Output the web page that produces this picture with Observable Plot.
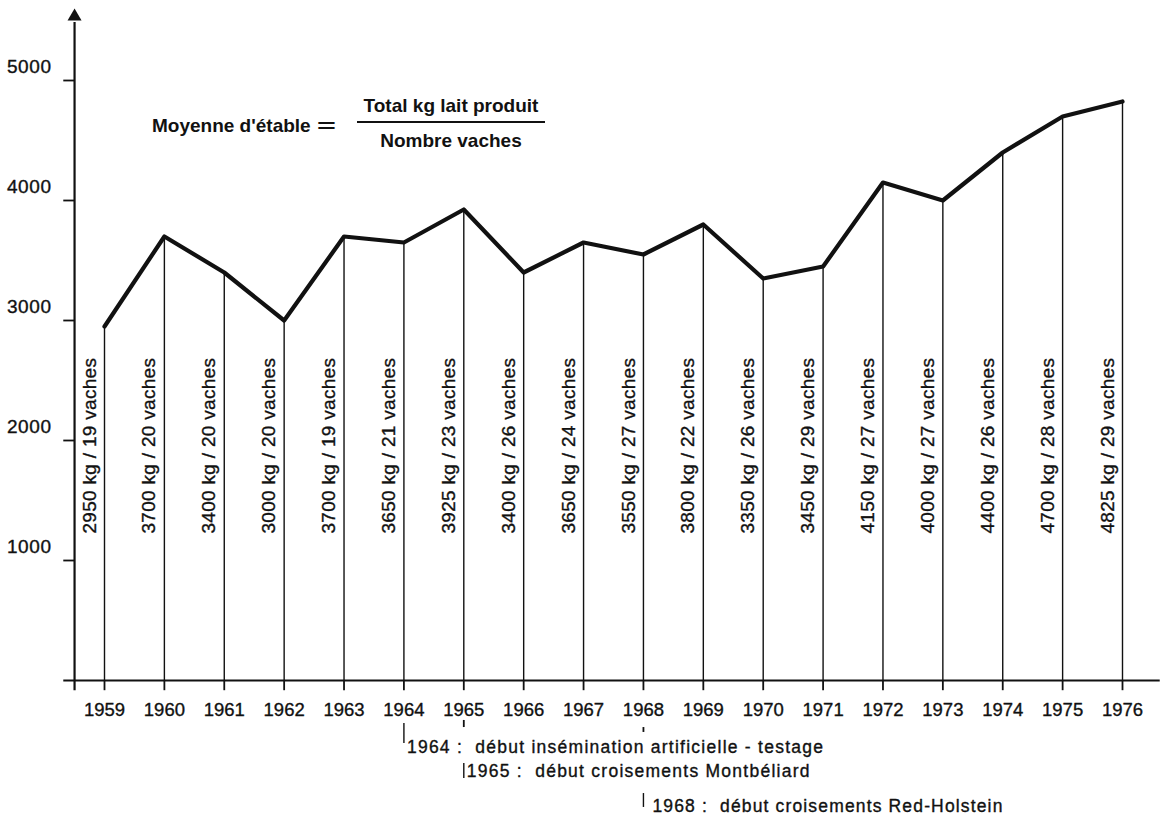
<!DOCTYPE html>
<html>
<head>
<meta charset="utf-8">
<script src="https://cdn.jsdelivr.net/npm/d3@7"></script>
<script src="https://cdn.jsdelivr.net/npm/@observablehq/plot@0.6"></script>
<style>
  body { margin: 0; background: #fff; }
  #wrap { position: relative; width: 1164px; height: 822px; font-family: "Liberation Sans", Arial, sans-serif; color: #111; }
  #chart { position: absolute; left: 0; top: 0; }
  .formula { position: absolute; font-weight: bold; font-size: 19px; line-height: 19px; white-space: nowrap; }
  .eq { display: inline-block; transform: scaleX(1.7); transform-origin: left center; margin-left: 6px; }
</style>
</head>
<body>
<div id="wrap">
  <div id="chart"></div>
  <div class="formula" style="left:152px; top:116px;">Moyenne d'étable<span class="eq">=</span></div>
  <div class="formula" style="left:357px; top:96px; width:188px; text-align:center;">Total kg lait produit</div>
  <div style="position:absolute; left:357px; top:121px; width:188px; height:0; border-top:2px solid #111;"></div>
  <div class="formula" style="left:357px; top:131px; width:188px; text-align:center;">Nombre vaches</div>
</div>
<script>
const years  = [1959,1960,1961,1962,1963,1964,1965,1966,1967,1968,1969,1970,1971,1972,1973,1974,1975,1976];
const milkKg = [2950,3700,3400,3000,3700,3650,3925,3400,3650,3550,3800,3350,3450,4150,4000,4400,4700,4825];
const cows   = [19,20,20,20,19,21,23,26,24,27,22,26,29,27,27,26,28,29];
const yTicks = [1000,2000,3000,4000,5000];
const noteYears = [1964,1965,1968];
const noteTexts = [
  "1964 :\u00a0\u00a0début insémination artificielle - testage",
  "1965 :\u00a0\u00a0début croisements Montbéliard",
  "1968 :\u00a0\u00a0début croisements Red-Holstein"
];

const data = years.map((y, i) => ({year: y, kg: milkKg[i], cows: cows[i]}));
const notes = noteYears.map((y, i) => ({year: y, text: noteTexts[i], row: i}));

const font = "'Liberation Sans', Arial, sans-serif";
const ink = "#111";
const textInk = {fill: ink, stroke: ink, strokeWidth: 0.35};

// axis extents (in data units)
const yAxisX = 1958.5;
const axisLeft = 1958.32, axisRight = 1976.63;
const axisBottom = -85, arrowY = 5533;

// note rows: leader bar extents and text baseline (in y data units), text offsets (px)
const noteBar  = [[-358, -525], [-692, -817], [-942, -1058]];
const noteBase = [-600, -808, -1092];
const noteDx   = [3, 3, 9];
const leaderMarks = [{year: 1965, y1: -333, y2: -392}, {year: 1968, y1: -392, y2: -433}];

const noteMarks = notes.map((n, i) =>
  Plot.text([n], {x: "year", y: noteBase[i], text: "text", textAnchor: "start", lineAnchor: "bottom", dx: noteDx[i], fontSize: 17.5, ...textInk})
);

const plot = Plot.plot({
  width: 1164,
  height: 822,
  marginTop: 0, marginBottom: 0, marginLeft: 0, marginRight: 0,
  x: {domain: [1959, 1976], range: [104, 1122], axis: null},
  y: {domain: [0, 5000], range: [680, 80], axis: null},
  style: {fontFamily: font, color: ink, background: "white"},
  marks: [
    // y axis line + arrow
    Plot.ruleX([yAxisX], {y1: axisBottom, y2: arrowY - 50, stroke: ink, strokeWidth: 2.2}),
    Plot.dot([yAxisX], {x: d => d, y: arrowY, symbol: "triangle", r: 5.2, fill: ink, stroke: null}),
    // x axis line
    Plot.ruleY([0], {x1: axisLeft, x2: axisRight, stroke: ink, strokeWidth: 2.2}),
    // y ticks
    Plot.ruleY(yTicks, {x1: 1958.32, x2: yAxisX, stroke: ink, strokeWidth: 1.8}),
    Plot.text(yTicks, {x: yAxisX, y: d => d, text: d => String(d), dx: -23, dy: -8, textAnchor: "end", lineAnchor: "bottom", fontSize: 19, ...textInk}),
    // x ticks
    Plot.ruleX(years, {y1: 0, y2: axisBottom, stroke: ink, strokeWidth: 1.8}),
    Plot.text(years, {x: d => d, y: 0, text: d => String(d), dy: 35, lineAnchor: "bottom", fontSize: 18.5, ...textInk}),
    // vertical drop lines
    Plot.ruleX(data, {x: "year", y1: 0, y2: "kg", stroke: ink, strokeWidth: 1.4}),
    // rotated labels
    Plot.text(data, {x: "year", y: 0, text: d => `${d.kg} kg / ${d.cows} vaches`, rotate: -90, textAnchor: "start", dx: -15, dy: -147, fontSize: 19, ...textInk}),
    // main line
    Plot.line(data, {x: "year", y: "kg", stroke: ink, strokeWidth: 4.2, strokeLinejoin: "round"}),
    // small leader marks under 1965 and 1968
    Plot.ruleX(leaderMarks, {x: "year", y1: "y1", y2: "y2", stroke: ink, strokeWidth: 1.8}),
    // note bars
    Plot.ruleX(notes, {x: "year", y1: d => noteBar[d.row][0], y2: d => noteBar[d.row][1], stroke: ink, strokeWidth: 1.4}),
    ...noteMarks
  ]
});

// letter spacing tweaks for text groups (in mark order)
const groups = d3.select(plot).selectAll('g[aria-label="text"]').nodes();
const spacing = [0.6, 0, 0.3, 1.25, 1.25, 1.15];
groups.forEach((g, i) => { if (spacing[i]) g.style.letterSpacing = spacing[i] + "px"; });

document.getElementById("chart").appendChild(plot);
</script>
</body>
</html>
